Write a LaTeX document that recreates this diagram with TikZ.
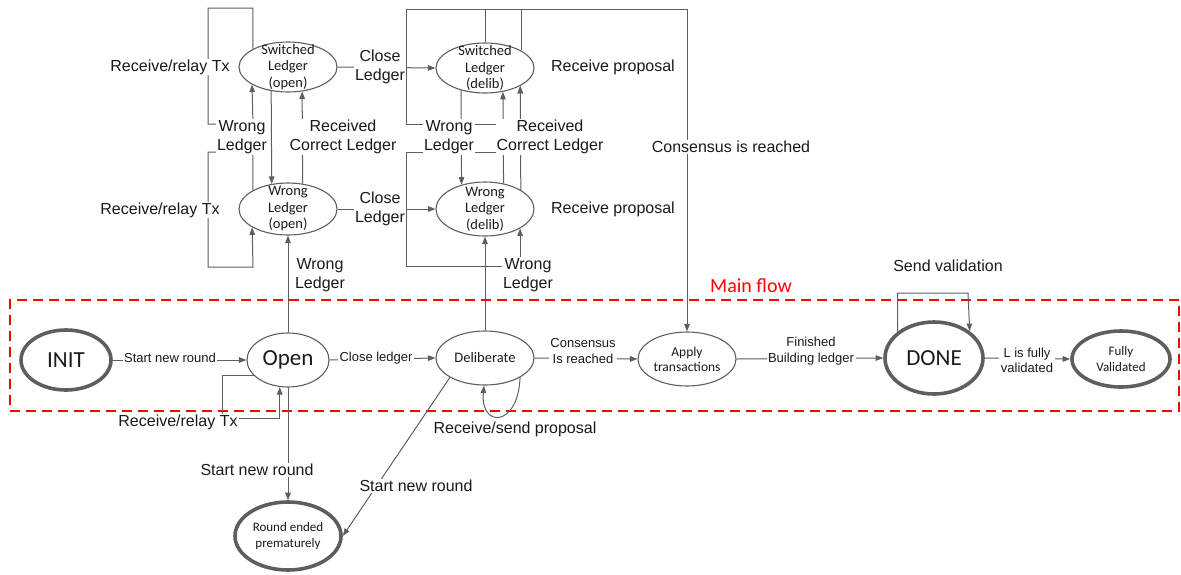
\documentclass[tikz,border=0pt]{standalone}
\usepackage{fontspec}
\setmainfont{Liberation Sans}
\newfontfamily\labfont{Liberation Sans}
\newfontfamily\ellfont{Carlito}
\usetikzlibrary{shapes.geometric,arrows.meta}
\definecolor{ln}{HTML}{5E5E5E}
\definecolor{tx}{HTML}{1A1A1A}
\begin{document}
\begin{tikzpicture}[x=1pt,y=-1pt,
  st/.style={ellipse, draw=ln, line width=1.1pt, inner sep=0pt},
  stthick/.style={st, line width=3.6pt},
  intext/.style={inner sep=0pt, align=center, text=tx, font=\ellfont\fontsize{14.5}{16.5}\selectfont},
  bigtext/.style={intext, font=\ellfont\fontsize{23}{26}\selectfont},
  smalltext/.style={intext, font=\ellfont\fontsize{13}{16.5}\selectfont},
  lbl/.style={fill=white, inner sep=1pt, align=center, text=tx, font=\labfont\fontsize{16}{19}\selectfont},
  slbl/.style={lbl, inner sep=1.5pt, font=\labfont\fontsize{13}{16}\selectfont},
  line/.style={draw=ln, line width=1pt},
  arr/.style={line, -{Triangle[length=7.5pt,width=5.5pt]}},
]
\useasboundingbox (0,0) rectangle (1181,574);

% main flow frame
\node[draw=red, line width=2.5pt, dash pattern=on 10pt off 6pt, inner sep=0pt,
      minimum width=1169pt, minimum height=111pt] (mainflow) at (594.5,355.5) {};
\node[text=red, inner sep=0pt, font=\ellfont\fontsize{20}{24}\selectfont] (mainflowlbl) at (751,286) {Main flow};

% states of the open phase
\node[st, minimum width=98pt, minimum height=50pt,
      label={[intext]center:Switched\\Ledger\\(open)}] (SO) at (288,67) {};
\node[st, minimum width=98pt, minimum height=52pt,
      label={[intext]center:Wrong\\Ledger\\(open)}] (WO) at (288,209) {};
% states of the deliberation phase
\node[st, minimum width=98pt, minimum height=50pt,
      label={[intext]center:Switched\\Ledger\\(delib)}] (SD) at (485,68) {};
\node[st, minimum width=98pt, minimum height=54pt,
      label={[intext]center:Wrong\\Ledger\\(delib)}] (WD) at (485,209) {};

% main flow states
\node[stthick, minimum width=90pt, minimum height=60pt,
      label={[bigtext]center:INIT}] (INIT) at (66,360) {};
\node[st, minimum width=82pt, minimum height=54pt,
      label={[bigtext]center:Open}] (Open) at (288,360) {};
\node[st, minimum width=98pt, minimum height=54pt,
      label={[intext]center:Deliberate}] (Delib) at (485,358) {};
\node[st, minimum width=98pt, minimum height=54pt,
      label={[intext, font=\ellfont\fontsize{13.5}{15}\selectfont]center:Apply\\transactions}] (Apply) at (687,359) {};
\node[stthick, minimum width=98pt, minimum height=72pt,
      label={[bigtext]center:DONE}] (DONE) at (934,358) {};
\node[stthick, minimum width=98pt, minimum height=56pt,
      label={[smalltext]center:Fully\\Validated}] (FV) at (1121,359) {};
\node[stthick, minimum width=106pt, minimum height=68pt,
      label={[smalltext]center:Round ended\\prematurely}] (RE) at (288,536) {};

% ---- open phase connectors
\draw[arr] (SO.153.4) |- (208,8) |- (253,124) -- (SO.206.6);
\draw[arr] (WO.152.5) |- (208,152) |- (253,267) -- (WO.207.5);
\draw[arr] (SO.235.9) -- (WO.123);
\draw[arr] (WO.60.6) -- (SO.300.3);
\draw[arr] (Open.north) -- (WO.south);
\draw[arr] (SO.east) -- (SD.west);
\draw[arr] (WO.east) -- (WD.west);

% ---- deliberation phase connectors
\coordinate (ytop) at (0,9);
\draw[line] (SD.26.6) -- (SD.26.6 |- ytop);
\draw[arr] (SD.north |- ytop) -| (406,124) -| (SD.333.4);
\draw[arr] (SD.north) |- (687,9) -- (Apply.north);
\draw[arr] (SD.223.8) -- (WD.134);
\draw[arr] (WD.54.4) -- (SD.307.7);
\draw[arr] (WD.28.4) -- (SD.333.4);
\draw[arr] (WD.54.4 |- 406,152) -| (406,266) -| (WD.331.6);
\draw[arr] (Delib.north) -- (WD.south);

% ---- main flow connectors
\draw[arr] (INIT.east) -- (Open.west);
\draw[arr] (Open.east) -- (Delib.west);
\draw[arr] (Delib.east) -- (Apply.west);
\draw[arr] (Apply.east) -- (DONE.west);
\draw[arr] (DONE.east) -- (FV.west);
\draw[arr] (DONE.144.2) |- (968,293) -- (DONE.37.3);
\draw[arr] (Open.205.9) -| (222,418) -| (Open.253.2);
\draw[arr] (Open.south) -- (RE.north);
\draw[arr] (Delib.209.7) -- (RE.east);
\draw[arr] (Delib.331.6) .. controls (518,428) and (480,428) .. (Delib.268);

% ---- labels
\node[lbl] (l1) at (170,67) {Receive/relay Tx};
\node[lbl] (l2) at (242,137) {Wrong\\Ledger};
\node[lbl] (l3) at (343,137) {Received\\Correct Ledger};
\node[lbl] (l4) at (160,210) {Receive/relay Tx};
\node[lbl] (l5) at (380,67) {Close\\Ledger};
\node[lbl] (l6) at (380,209) {Close\\Ledger};
\node[lbl] (l7) at (320,275) {Wrong\\Ledger};
\node[lbl] (l8) at (449,137) {Wrong\\Ledger};
\node[lbl] (l9) at (550,137) {Received\\Correct Ledger};
\node[lbl] (l10) at (613,67) {Receive proposal};
\node[lbl] (l11) at (613,209) {Receive proposal};
\node[lbl] (l12) at (731,147) {Consensus is reached};
\node[lbl] (l13) at (528,275) {Wrong\\Ledger};
\node[lbl, fill=none] (l14) at (948,266) {Send validation};
\node[slbl] (l15) at (170,358) {Start new round};
\node[slbl] (l16) at (376,358) {Close ledger};
\node[slbl] (l17) at (583,351) {Consensus\\Is reached};
\node[slbl] (l18) at (811,351) {Finished\\Building ledger};
\node[slbl, font=\labfont\fontsize{13}{15}\selectfont] (l19) at (1027,360) {L is fully\\validated};
\node[lbl] (l20) at (178,422) {Receive/relay Tx};
\node[lbl] (l21) at (257,470) {Start new round};
\node[lbl] (l22) at (416,486) {Start new round};
\node[lbl, fill=none] (l23) at (515,429) {Receive/send proposal};
\end{tikzpicture}
\end{document}
